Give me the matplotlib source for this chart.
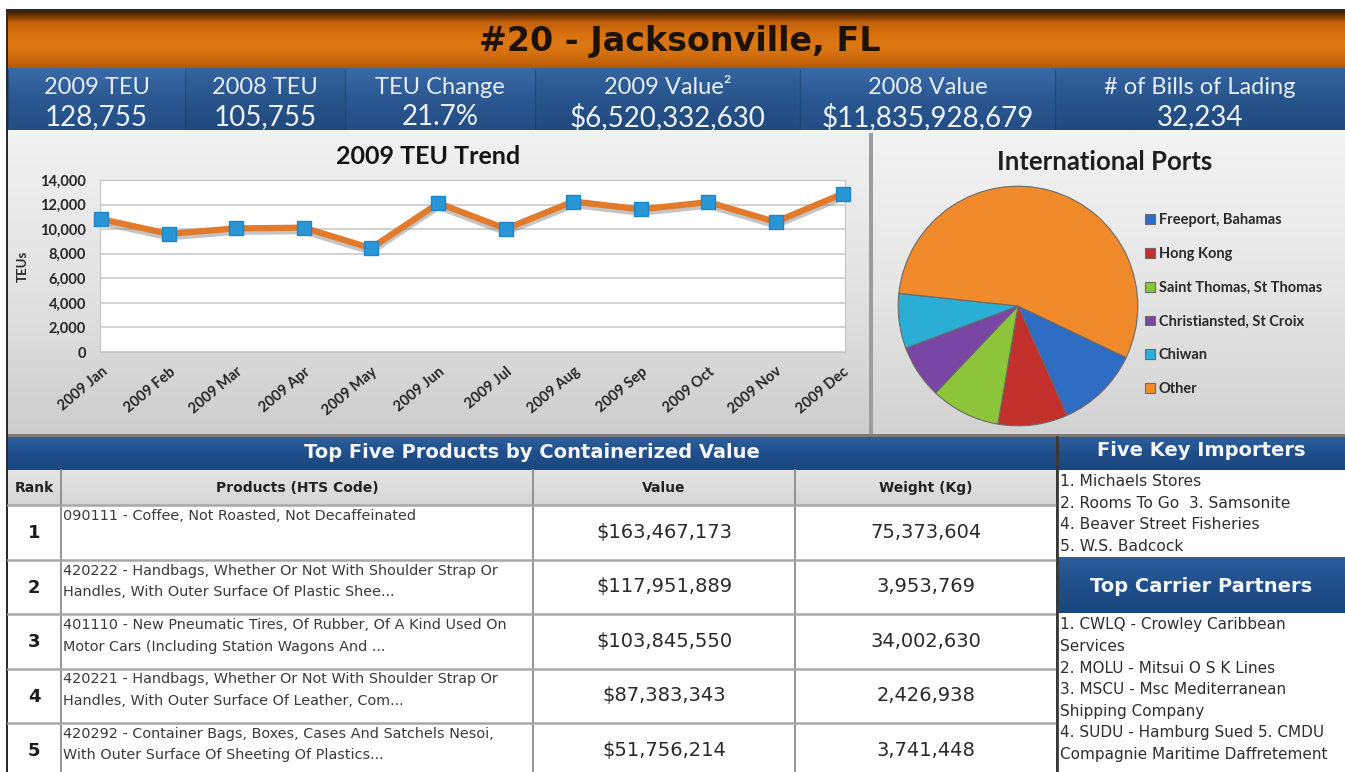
"""Port profile dashboard: #20 Jacksonville, FL (2009 TEU trend, ports, products)."""
import matplotlib

matplotlib.use("Agg")
import matplotlib.patheffects as pe
import matplotlib.pyplot as plt
import numpy as np
from matplotlib.colors import LinearSegmentedColormap
from matplotlib.patches import Rectangle

W, H = 1345, 772

# ---- data -------------------------------------------------------------
title = "#20 - Jacksonville, FL"
stat_labels = ["2009 TEU", "2008 TEU", "TEU Change", "2009 Value²", "2008 Value", "# of Bills of Lading"]
stat_values = ["128,755", "105,755", "21.7%", "$6,520,332,630", "$11,835,928,679", "32,234"]

months = ["2009 Jan", "2009 Feb", "2009 Mar", "2009 Apr", "2009 May", "2009 Jun",
          "2009 Jul", "2009 Aug", "2009 Sep", "2009 Oct", "2009 Nov", "2009 Dec"]
teu_2009 = [10810, 9620, 10060, 10120, 8450, 12110, 10030, 12250, 11610, 12200, 10590, 12890]

ports = ["Freeport, Bahamas", "Hong Kong", "Saint Thomas, St Thomas",
         "Christiansted, St Croix", "Chiwan", "Other"]
port_share = [11.2, 9.4, 9.4, 7.2, 7.4, 55.4]
port_colors = ["#2f6cc4", "#c4302b", "#8cc43a", "#7a46a6", "#2aaed6", "#f08a2a"]

table_columns = ["Rank", "Products (HTS Code)", "Value", "Weight (Kg)"]
ranks = ["1", "2", "3", "4", "5"]
products = [
    "090111 - Coffee, Not Roasted, Not Decaffeinated",
    "420222 - Handbags, Whether Or Not With Shoulder Strap Or\nHandles, With Outer Surface Of Plastic Shee...",
    "401110 - New Pneumatic Tires, Of Rubber, Of A Kind Used On\nMotor Cars (Including Station Wagons And ...",
    "420221 - Handbags, Whether Or Not With Shoulder Strap Or\nHandles, With Outer Surface Of Leather, Com...",
    "420292 - Container Bags, Boxes, Cases And Satchels Nesoi,\nWith Outer Surface Of Sheeting Of Plastics...",
]
product_values = ["$163,467,173", "$117,951,889", "$103,845,550", "$87,383,343", "$51,756,214"]
product_weights = ["75,373,604", "3,953,769", "34,002,630", "2,426,938", "3,741,448"]

importers = ["1. Michaels Stores", "2. Rooms To Go  3. Samsonite",
             "4. Beaver Street Fisheries", "5. W.S. Badcock"]
carriers = ["1. CWLQ - Crowley Caribbean", "Services", "2. MOLU - Mitsui O S K Lines",
            "3. MSCU - Msc Mediterranean", "Shipping Company",
            "4. SUDU - Hamburg Sued 5. CMDU", "Compagnie Maritime Daffretement"]

# ---- styling ----------------------------------------------------------
TITLE_FONT = ["Lato", "DejaVu Sans"]
BODY_FONT = ["DejaVu Sans"]
BLUE_TOP, BLUE_BOT = "#2d5f9f", "#1b467e"


def gradient(ax, x0, x1, y0, y1, colors, zorder=0):
    """Vertical colour gradient filling a pixel box (y grows downwards)."""
    cmap = LinearSegmentedColormap.from_list("g", colors)
    ramp = np.linspace(0, 1, 256).reshape(-1, 1)
    ax.imshow(ramp, cmap=cmap, aspect="auto", extent=(x0, x1, y1, y0),
              origin="upper", zorder=zorder, interpolation="bilinear")


fig = plt.figure(figsize=(W / 100, H / 100), dpi=100)
fig.patch.set_facecolor("white")
ax = fig.add_axes([0, 0, 1, 1])
ax.set_axis_off()

# page frame
ax.add_patch(Rectangle((6, 9), W - 6, H - 9, facecolor="#2a2a2a", zorder=0))

# orange header
gradient(ax, 8, W, 11, 68, ["#3c1a00", "#c2600a", "#d8720f", "#dc7814", "#d06c0e", "#b65806"],
         zorder=1)
ax.text(680, 42, title, ha="center", va="center", fontsize=24, fontweight="bold",
        family=BODY_FONT, color="#1c1206", zorder=3)

# stats band
stat_edges = [8, 185, 345, 535, 800, 1055, W]
for i, (lab, val) in enumerate(zip(stat_labels, stat_values)):
    x0, x1 = stat_edges[i], stat_edges[i + 1]
    shade = ["#3a6aa8", "#2a5892", "#244d84"] if i % 2 == 0 else ["#35649f", "#27558c", "#21497e"]
    gradient(ax, x0, x1, 68, 130, shade, zorder=1)
    ax.plot([x0, x0], [70, 128], color="#1b3c66", lw=1, alpha=0.5, zorder=2)
    xc = (x0 + x1) / 2
    ax.text(xc, 88, lab, ha="center", va="center", fontsize=17, family=TITLE_FONT,
            color="#e6edf6", zorder=3)
    ax.text(xc, 117, val, ha="center", va="center", fontsize=20, family=TITLE_FONT,
            color="#eef2f8", zorder=3)
ax.add_patch(Rectangle((8, 130), W - 8, 3, facecolor="#f2f2f2", zorder=2))

# chart panels background
gradient(ax, 8, 869, 133, 436, ["#f1f1f1", "#e3e3e3", "#cdcdcd"], zorder=1)
gradient(ax, 873, W, 133, 436, ["#f3f3f3", "#e6e6e6", "#d2d2d2"], zorder=1)
ax.add_patch(Rectangle((869, 133), 4, 303, facecolor="#9c9c9c", zorder=2))
ax.add_patch(Rectangle((8, 434), W - 8, 3, facecolor="#7a7a7a", zorder=2))

ax.text(428, 156, "2009 TEU Trend", ha="center", va="center", fontsize=18,
        fontweight="bold", family=TITLE_FONT, color="#141414", zorder=3)
ax.text(1105, 162, "International Ports", ha="center", va="center", fontsize=18.5,
        fontweight="bold", family=TITLE_FONT, color="#1e1e1e", zorder=3)

# bottom section headers
gradient(ax, 8, 1056, 437, 470, [BLUE_TOP, "#1f4f8a", BLUE_BOT], zorder=1)
ax.text(532, 452, "Top Five Products by Containerized Value", ha="center", va="center",
        fontsize=14, fontweight="bold", family=BODY_FONT, color="#f4f6fa", zorder=3)
gradient(ax, 1058, W, 437, 470, [BLUE_TOP, "#1f4f8a", BLUE_BOT], zorder=1)
ax.text(1201, 451, "Five Key Importers", ha="center", va="center", fontsize=14,
        fontweight="bold", family=BODY_FONT, color="#f4f6fa", zorder=3)
gradient(ax, 1058, W, 557, 613, [BLUE_TOP, "#1f4f8a", BLUE_BOT], zorder=1)
ax.text(1201, 587, "Top Carrier Partners", ha="center", va="center", fontsize=14,
        fontweight="bold", family=BODY_FONT, color="#f4f6fa", zorder=3)

# table
col_edges = [8, 61, 533, 795, 1056]
gradient(ax, 8, 1056, 470, 505, ["#e4e4e4", "#d6d6d6"], zorder=1)
ax.add_patch(Rectangle((8, 505), 1048, H - 505, facecolor="white", zorder=1))
for j, name in enumerate(table_columns):
    ax.text((col_edges[j] + col_edges[j + 1]) / 2, 488, name, ha="center", va="center",
            fontsize=10, fontweight="bold", family=BODY_FONT, color="#222222", zorder=3)
for xe in col_edges[1:-1]:
    ax.plot([xe, xe], [470, H], color="#8c8c8c", lw=1.3, zorder=3)
ax.plot([1057, 1057], [437, H], color="#3a3a3a", lw=2, zorder=4)

row_top, row_h = 505, 54.5
for i in range(len(ranks)):
    top = row_top + i * row_h
    yc = top + row_h / 2
    ax.plot([8, 1056], [top, top], color="#a8a8a8", lw=1.8, zorder=3)
    ax.text(34, yc + 1, ranks[i], ha="center", va="center", fontsize=13,
            fontweight="bold", family=BODY_FONT, color="#1c1c1c", zorder=3)
    for k, line in enumerate(products[i].split("\n")):
        ax.text(63, top + 11 + k * 21.5, line, ha="left", va="center", fontsize=10.4,
                family=BODY_FONT, color="#3a3a3a", zorder=3)
    ax.text(664, yc, product_values[i], ha="center", va="center", fontsize=14,
            family=BODY_FONT, color="#2a2a2a", zorder=3)
    ax.text(926, yc, product_weights[i], ha="center", va="center", fontsize=14,
            family=BODY_FONT, color="#2a2a2a", zorder=3)

# importer / carrier lists
ax.add_patch(Rectangle((1058, 470), W - 1058, 87, facecolor="white", zorder=1))
ax.add_patch(Rectangle((1058, 613), W - 1058, H - 613, facecolor="white", zorder=1))
for k, line in enumerate(importers):
    ax.text(1060, 482 + k * 21.4, line, ha="left", va="center", fontsize=11.2,
            family=BODY_FONT, color="#2e2e2e", zorder=3)
for k, line in enumerate(carriers):
    ax.text(1060, 625 + k * 21.6, line, ha="left", va="center", fontsize=11,
            family=BODY_FONT, color="#2e2e2e", zorder=3)

ax.set_xlim(0, W)
ax.set_ylim(H, 0)

# ---- line chart ---------------------------------------------------------
left, right, top_px, bot_px = 100, 845, 180, 352
lax = fig.add_axes([left / W, 1 - bot_px / H, (right - left) / W, (bot_px - top_px) / H])
lax.set_facecolor("white")
x = np.arange(len(months))
lax.plot(x, teu_2009, color="#e27a2c", lw=4.5, solid_joinstyle="miter", zorder=3,
         path_effects=[pe.SimpleLineShadow(offset=(0, -2.5), shadow_color="#8a8a8a", alpha=0.5),
                       pe.Normal()])
lax.plot(x, teu_2009, ls="none", marker="s", ms=9.5, mfc="#2a96d6", mec="#1f86c6",
         zorder=4, clip_on=False)
lax.set_xlim(-0.02, 11.03)
lax.set_ylim(0, 14000)
lax.set_yticks(range(0, 14001, 2000))
lax.set_yticklabels([f"{v:,}" for v in range(0, 14001, 2000)])
lax.set_xticks(x)
lax.set_xticklabels(months, rotation=40, ha="right", rotation_mode="anchor")
lax.tick_params(length=0)
lax.tick_params(axis="y", pad=10)
lax.tick_params(axis="x", pad=9)
for lab in lax.get_xticklabels() + lax.get_yticklabels():
    lab.set_family(TITLE_FONT)
    lab.set_fontweight("bold")
    lab.set_fontsize(10.5)
    lab.set_color("#262626")
lax.grid(axis="y", color="#c9c9c9", lw=1.2)
lax.set_axisbelow(True)
for s in lax.spines.values():
    s.set_color("#c4c4c4")
lax.set_ylabel("TEUs", fontsize=9.5, fontweight="bold", family=TITLE_FONT, color="#262626",
               labelpad=8)

# ---- pie chart ----------------------------------------------------------
cx, cy, r = 1018, 306, 121
pax = fig.add_axes([(cx - r) / W, 1 - (cy + r) / H, 2 * r / W, 2 * r / H])
wedges, _ = pax.pie(port_share, colors=port_colors, startangle=-25.5, counterclock=False,
                    radius=1, wedgeprops=dict(edgecolor="#6a6a6a", linewidth=0.8))
pax.set_xlim(-1.01, 1.01)
pax.set_ylim(-1.01, 1.01)
pax.legend(wedges, ports, loc="upper left", bbox_to_anchor=(1132 / W, 1 - 200 / H),
           bbox_transform=fig.transFigure, frameon=False, handlelength=0.65,
           handleheight=0.65, handletextpad=0.3, labelspacing=1.36,
           prop=dict(family=TITLE_FONT, weight="bold", size=10.5), labelcolor="#2a2a2a")

fig.savefig("out.png", dpi=100)
